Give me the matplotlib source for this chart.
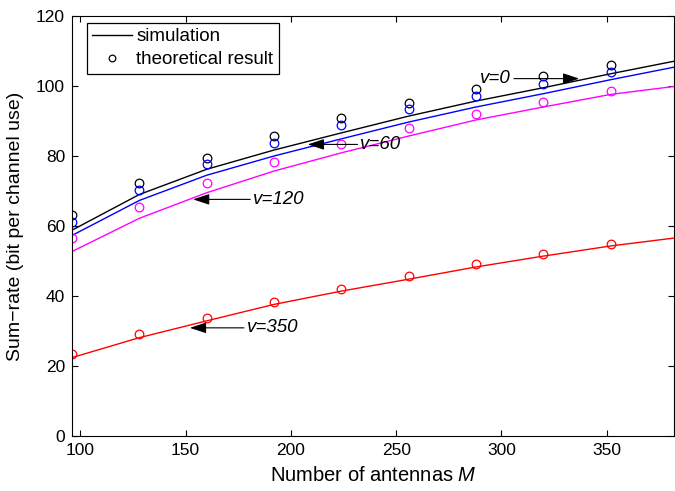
import matplotlib.pyplot as plt

plt.rcParams['font.family'] = ['Liberation Sans', 'DejaVu Sans']
plt.rcParams['mathtext.fontset'] = 'custom'
plt.rcParams['mathtext.it'] = 'Liberation Sans:italic'

# antenna numbers
M_theory = [96, 128, 160, 192, 224, 256, 288, 320, 352]
M_sim = [96, 128, 160, 192, 224, 256, 288, 320, 352, 384]

# simulation curves
sim_v0 = [58.8, 69.0, 76.2, 81.7, 86.6, 91.4, 95.7, 99.5, 103.5, 107.3]
sim_v60 = [57.3, 67.3, 74.5, 80.0, 84.9, 89.7, 94.0, 97.8, 101.8, 105.6]
sim_v120 = [52.7, 62.2, 69.5, 75.7, 80.9, 85.7, 90.3, 94.0, 97.6, 100.0]
sim_v350 = [22.4, 28.1, 32.9, 37.6, 41.4, 44.8, 48.3, 51.4, 54.3, 56.7]

# theoretical results
th_v0 = [63.0, 72.2, 79.5, 85.6, 90.8, 95.2, 99.1, 102.8, 106.0]
th_v60 = [61.2, 70.4, 77.6, 83.7, 88.9, 93.3, 97.2, 100.7, 104.1]
th_v120 = [56.5, 65.3, 72.4, 78.4, 83.4, 87.9, 91.9, 95.4, 98.6]
th_v350 = [23.3, 29.0, 33.8, 38.2, 42.1, 45.7, 49.0, 52.0, 54.9]

fig = plt.figure(figsize=(6.75, 4.91), dpi=100)
ax = fig.add_axes([0.1067, 0.112, 0.8918, 0.8555])

curves = [
    (sim_v0, th_v0, 'k'),
    (sim_v60, th_v60, '#0000ff'),
    (sim_v120, th_v120, '#ff00ff'),
    (sim_v350, th_v350, '#ff0000'),
]
for sim, th, c in curves:
    ax.plot(M_sim, sim, color=c, lw=1.0)
    ax.plot(M_theory, th, 'o', mfc='none', mec=c, ms=6.2, mew=0.9)

# legend proxies
h_sim, = ax.plot([], [], color='k', lw=1.0)
h_th, = ax.plot([], [], 'o', mfc='none', mec='k', ms=4.8, mew=0.9)
leg = ax.legend([h_sim, h_th], ['simulation', 'theoretical result'],
                loc='upper left', bbox_to_anchor=(0.0244, 0.984),
                borderaxespad=0, fontsize=13.5, fancybox=False,
                edgecolor='k', framealpha=1, handlelength=2.1,
                handletextpad=0.25, borderpad=0.3, labelspacing=0.3)
leg.get_frame().set_linewidth(0.9)

arrow = dict(arrowstyle='-|>,head_length=1.0,head_width=0.33', color='k',
             lw=0.8, mutation_scale=10, shrinkA=0, shrinkB=0)
notes = [
    ('v=0', (337, 102.1), (290, 102.1)),
    ('v=60', (208, 83.3), (233, 83.3)),
    ('v=120', (153.5, 67.6), (182, 67.6)),
    ('v=350', (152, 30.9), (179, 30.9)),
]
for txt, tip, pos in notes:
    ax.annotate(txt, xy=tip, xytext=pos, fontsize=13.5, style='italic',
                ha='left', va='center', arrowprops=arrow)

ax.set_xlim(96, 382)
ax.set_ylim(0, 120)
ax.set_xticks([100, 150, 200, 250, 300, 350])
ax.set_yticks([0, 20, 40, 60, 80, 100, 120])
ax.tick_params(direction='in', top=True, right=True, labelsize=12.5, length=4, pad=5)
ax.set_xlabel('Number of antennas $\\mathit{M}$', fontsize=14.5, labelpad=6)
ax.set_ylabel('Sum\u2212rate (bit per channel use)', fontsize=14, labelpad=9)

fig.savefig('out.png', dpi=100)
